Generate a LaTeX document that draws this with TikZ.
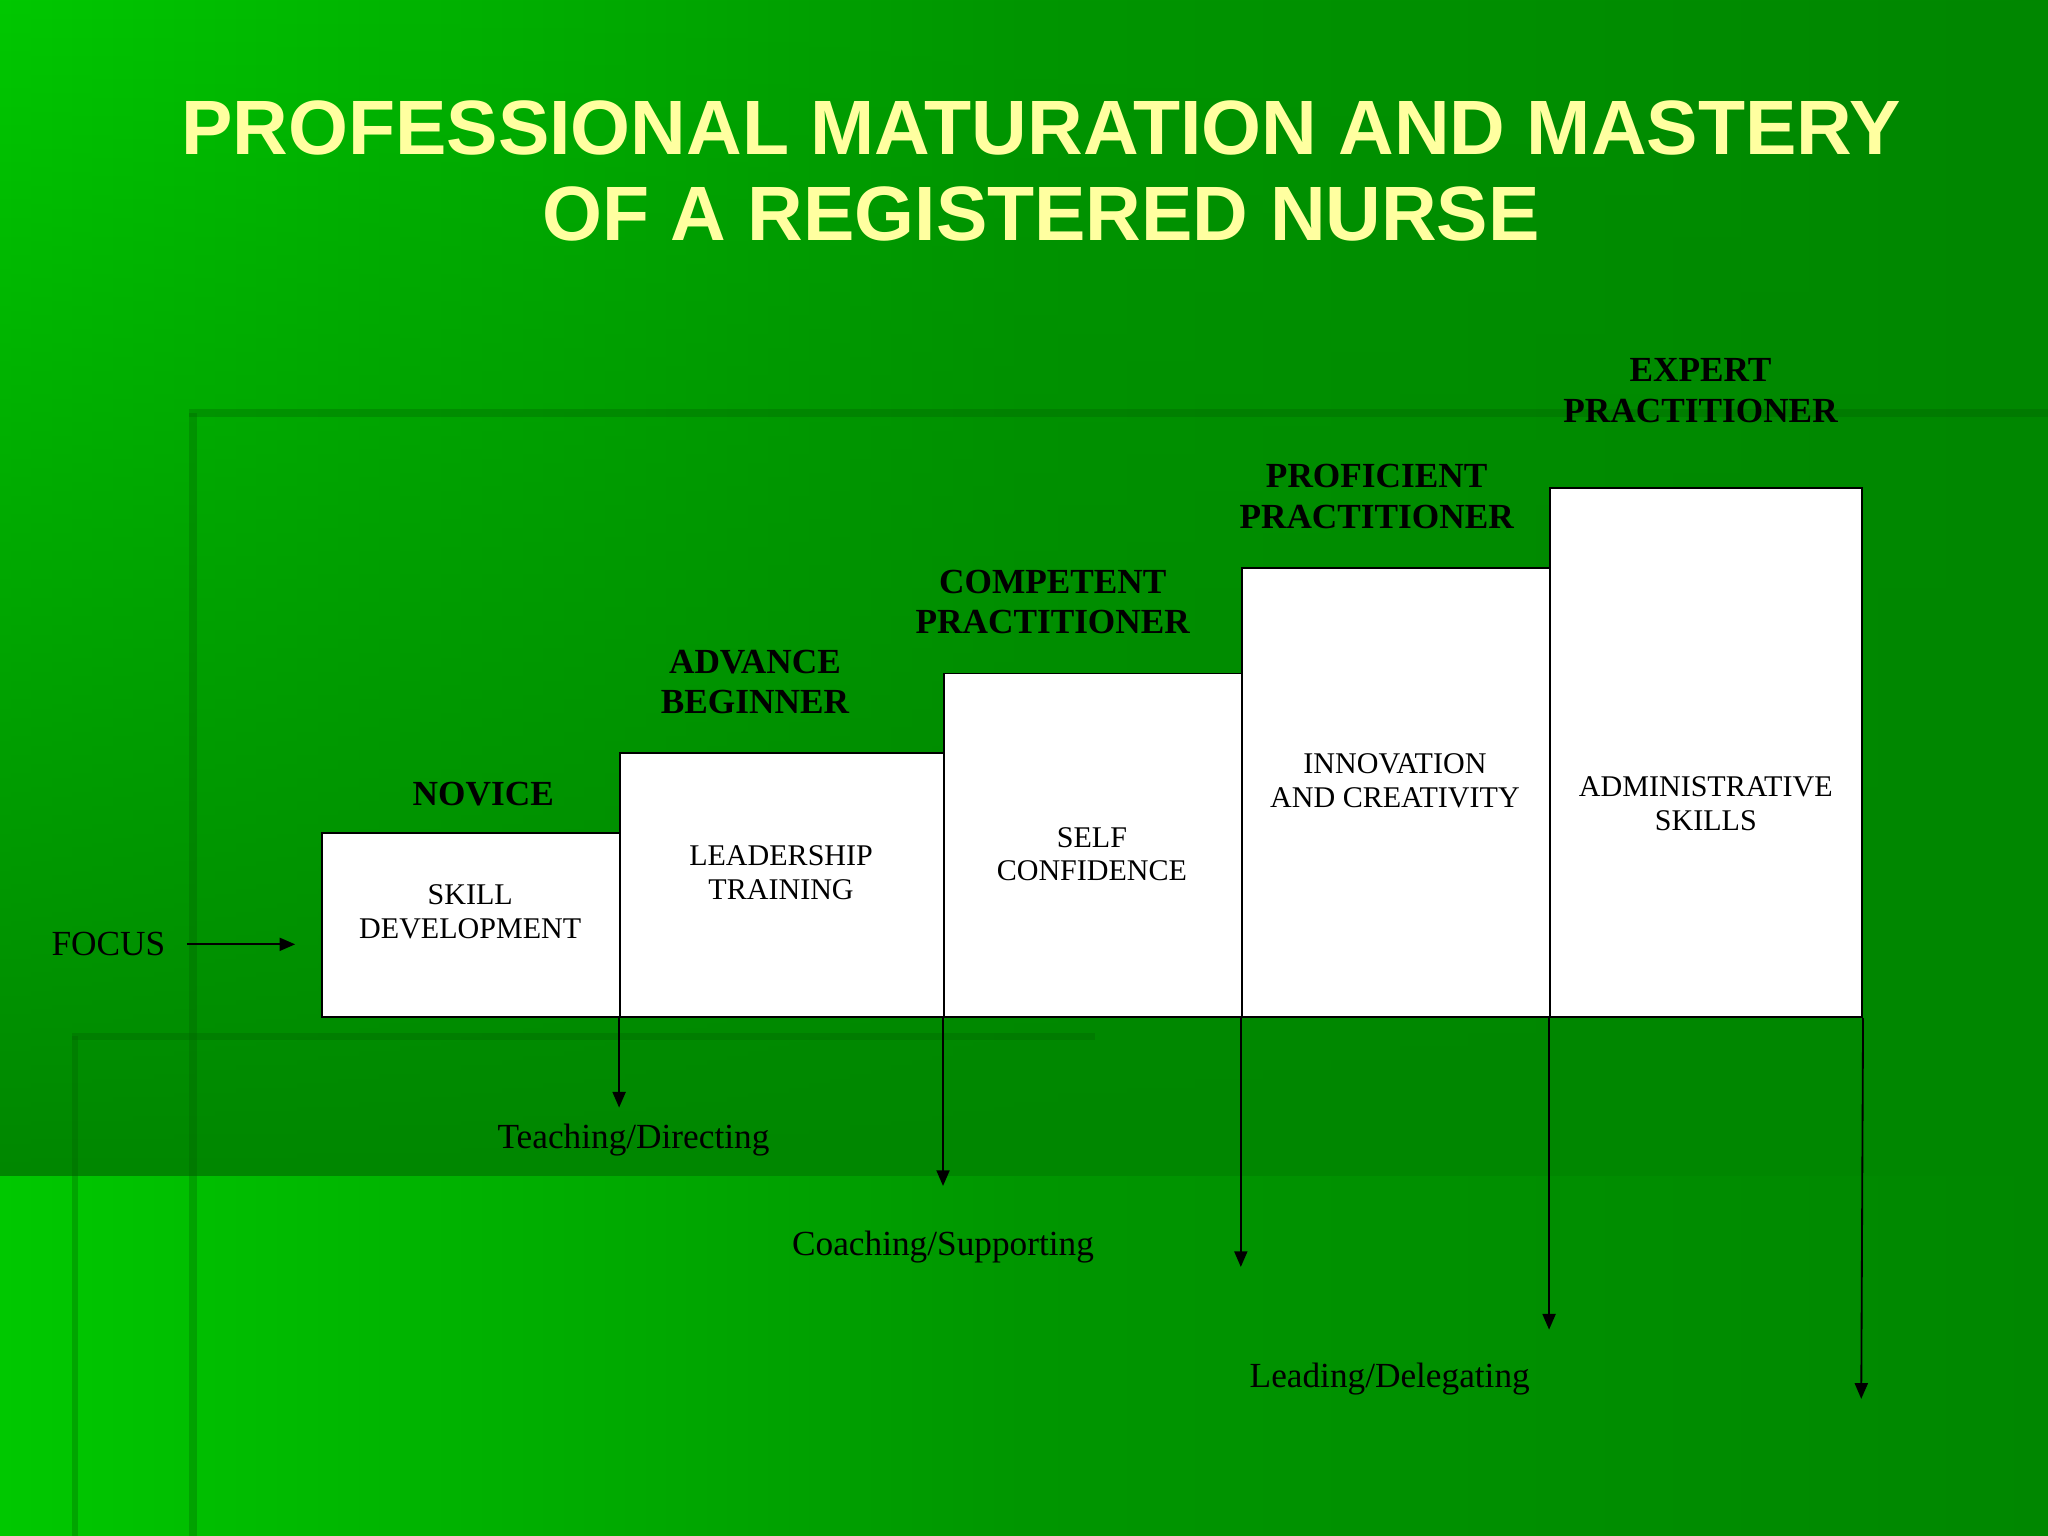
\documentclass[tikz,border=0pt]{standalone}
\usepackage{fontspec}
\setmainfont{Liberation Serif}
\newfontfamily\titlefont{Liberation Sans}
\usetikzlibrary{arrows.meta,fadings}
\definecolor{ttl}{RGB}{255,255,160}
\definecolor{gA}{RGB}{0,200,0}
\definecolor{gB}{RGB}{0,135,0}
\definecolor{edge}{RGB}{0,95,0}
\begin{document}
\begin{tikzpicture}[x=0.5pt,y=-0.5pt,
  box/.style={draw=black,fill=white,line width=0.7pt,anchor=north west,inner sep=0pt,font=\fontsize{11.5}{13}\selectfont,align=center},
  btxt/.style={font=\fontsize{11.5}{13}\selectfont,align=center},
  stage/.style={font=\bfseries\fontsize{13.5}{15.5}\selectfont,align=center},
  lbl/.style={font=\fontsize{13.5}{15}\selectfont},
  arr/.style={-{Triangle[length=6pt,width=5pt]},line width=0.7pt}]
\useasboundingbox (0,0) rectangle (1568,1176);
\shade[left color=gA,right color=gB,middle color={rgb,255:red,0;green,150;blue,0}] (0,0) rectangle (1568,1176);
\fill[gB,path fading=north] (0,0) rectangle (1568,900);
\fill[edge,opacity=0.3] (145,313) rectangle (1568,319);
\fill[edge,opacity=0.3] (145,316) rectangle (151,1176);
\fill[edge,opacity=0.3] (55,791) rectangle (838,796);
\fill[edge,opacity=0.3] (55,793) rectangle (60,1176);
\node[font=\titlefont\bfseries\fontsize{29.5}{33}\selectfont,text=ttl,align=center] (title) at (797,131) {PROFESSIONAL MATURATION AND MASTERY\\OF A REGISTERED NURSE};
\node[box,minimum width=114pt,minimum height=70.5pt] (b1) at (246,637) {};
\node[box,minimum width=124pt,minimum height=101pt] (b2) at (474,576) {};
\node[box,minimum width=114pt,minimum height=131.5pt] (b3) at (722,515) {};
\node[box,minimum width=118pt,minimum height=172pt] (b4) at (950,434) {};
\node[box,minimum width=119.5pt,minimum height=202.5pt] (b5) at (1186,373) {};
\node[btxt] (t1) at (360,698) {SKILL\\DEVELOPMENT};
\node[btxt] (t2) at (598,668) {LEADERSHIP\\TRAINING};
\node[btxt] (t3) at (836,654) {SELF\\CONFIDENCE};
\node[btxt] (t4) at (1068,598) {INNOVATION\\AND CREATIVITY};
\node[btxt] (t5) at (1306,615) {ADMINISTRATIVE\\SKILLS};
\node[stage] (s1) at (370,608) {NOVICE};
\node[stage] (s2) at (578,522) {ADVANCE\\BEGINNER};
\node[stage] (s3) at (806,461) {COMPETENT\\PRACTITIONER};
\node[stage] (s4) at (1054,380) {PROFICIENT\\PRACTITIONER};
\node[stage] (s5) at (1302,299) {EXPERT\\PRACTITIONER};
\node[lbl] (focus) at (83,723) {FOCUS};
\coordinate (fs) at (143,723);
\coordinate (fe) at (226,723);
\draw[arr] (fs) -- (fe);
\coordinate (e1) at (474,848);
\coordinate (e2) at (722,908);
\coordinate (e3) at (950,970);
\coordinate (e4) at (1186,1018);
\coordinate (e5) at (1425,1071);
\draw[arr] (b2.south west) -- (e1);
\draw[arr] (b3.south west) -- (e2);
\draw[arr] (b4.south west) -- (e3);
\draw[arr] (b5.south west) -- (e4);
\draw[arr] (b5.south east) -- (e5);
\node[lbl] (l1) at (485,873) {Teaching/Directing};
\node[lbl] (l2) at (722,955) {Coaching/Supporting};
\node[lbl] (l3) at (1064,1056) {Leading/Delegating};
\end{tikzpicture}
\end{document}
